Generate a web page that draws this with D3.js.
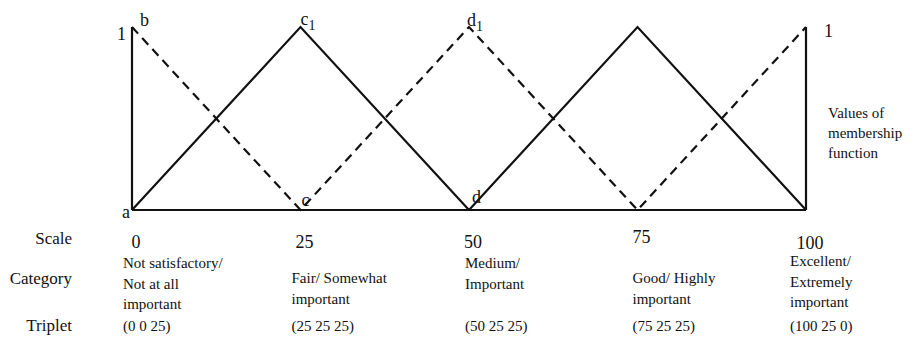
<!DOCTYPE html>
<html><head><meta charset="utf-8">
<script src="https://cdn.jsdelivr.net/npm/d3@7"></script>
<style>
html,body{margin:0;padding:0;background:#fff;}
</style></head>
<body>
<svg id="chart" width="924" height="346"></svg>
<script>
// ---- data ----
const scaleValues = [0, 25, 50, 75, 100];
const categories = [
  ["Not satisfactory/", "Not at all", "important"],
  ["Fair/ Somewhat", "important"],
  ["Medium/", "Important"],
  ["Good/ Highly", "important"],
  ["Excellent/", "Extremely", "important"]
];
const triplets = ["(0 0 25)", "(25 25 25)", "(50 25 25)", "(75 25 25)", "(100 25 0)"];
const rowLabels = ["Scale", "Category", "Triplet"];
// membership functions (x, mu)
const solidTriangle1 = [[0, 0], [25, 1], [50, 0]];
const solidTriangle2 = [[50, 0], [75, 1], [100, 0]];
const dashedZigzag = [[0, 1], [25, 0], [50, 1], [75, 0], [100, 1]];
const leftEdge = [[0, 0], [0, 1]];
const rightEdge = [[100, 0], [100, 1]];
const baseLine = [[0, 0], [100, 0]];
const pointLabels = [
  {t: "1", x: 0, y: 1}, {t: "b", x: 0, y: 1}, {t: "a", x: 0, y: 0},
  {t: "c", sub: "1", x: 25, y: 1}, {t: "c", x: 25, y: 0},
  {t: "d", sub: "1", x: 50, y: 1}, {t: "d", x: 50, y: 0},
  {t: "1", x: 100, y: 1}
];
const axisTitle = ["Values of", "membership", "function"];

// ---- layout ----
const FONT = "Liberation Serif";
const svg = d3.select("#chart");
const ink = "#111";
const x = d3.scaleLinear().domain([0, 100]).range([132, 806]);
const y = d3.scaleLinear().domain([0, 1]).range([210, 27]);
const line = d3.line().x(d => x(d[0])).y(d => y(d[1]));

function txt(sel, xx, yy, size, s, anchor) {
  return sel.append("text").attr("x", xx).attr("y", yy).attr("font-family", FONT)
    .attr("font-size", size).attr("fill", ink).attr("text-anchor", anchor || "start").text(s);
}

const g = svg.append("g");
[solidTriangle1, solidTriangle2, leftEdge, rightEdge, baseLine].forEach(s => {
  g.append("path").attr("d", line(s)).attr("fill", "none")
   .attr("stroke", ink).attr("stroke-width", 2.2).attr("stroke-linejoin", "miter");
});
g.append("path").attr("d", line(dashedZigzag)).attr("fill", "none")
  .attr("stroke", ink).attr("stroke-width", 2.2).attr("stroke-dasharray", "9,6");

// point labels
const labelOffsets = [[-15, 13], [8, -1], [-10, 8], [0, -2], [1, -4], [-2, -1], [3, -7], [18, 10]];
pointLabels.forEach((p, i) => {
  const t = txt(g, x(p.x) + labelOffsets[i][0], y(p.y) + labelOffsets[i][1], 18, p.t);
  if (p.sub) t.append("tspan").attr("font-size", 14).attr("dy", 5).text(p.sub);
});

// axis title at right
axisTitle.forEach((s, i) => txt(g, 828, 118 + i * 20, 15, s));

// bottom table
const rowY = [244, 284, 331];
rowLabels.forEach((s, i) => txt(svg, 72, rowY[i], 17, s, "end"));
const scaleDy = [0, 0, 0, -5, 1];
scaleValues.forEach((v, i) => txt(svg, x(v) + 4, 248 + scaleDy[i], 18, v, "middle"));
const colDx = [-9, -9, -4, -5, -16];
const catY = [268, 283, 268, 283, 266];
categories.forEach((lines, i) => {
  lines.forEach((s, j) => txt(svg, x(scaleValues[i]) + colDx[i], catY[i] + j * 20.5, 15, s));
  txt(svg, x(scaleValues[i]) + colDx[i], 331, 15, triplets[i]);
});
</script>
</body></html>
